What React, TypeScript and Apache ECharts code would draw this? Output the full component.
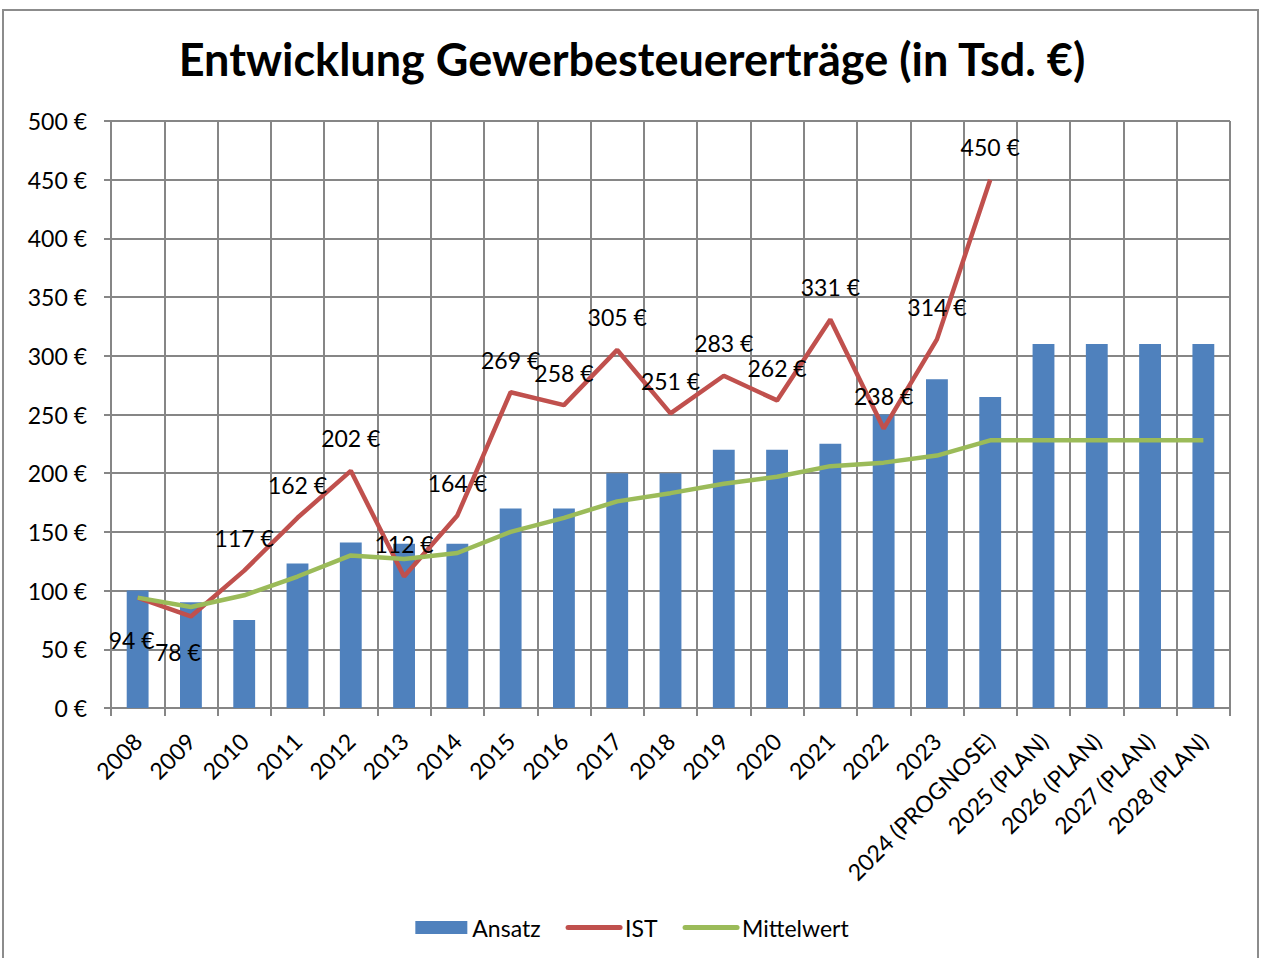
import React, { useEffect, useRef } from "react";
import * as echarts from "echarts";

const categories = [
  "2008", "2009", "2010", "2011", "2012", "2013", "2014", "2015", "2016", "2017",
  "2018", "2019", "2020", "2021", "2022", "2023", "2024 (PROGNOSE)",
  "2025 (PLAN)", "2026 (PLAN)", "2027 (PLAN)", "2028 (PLAN)",
];
const ansatz = [100, 90, 75, 123, 141, 140, 140, 170, 170, 200, 200, 220, 220, 225, 250, 280, 265, 310, 310, 310, 310];
const ist = [94, 78, 117, 162, 202, 112, 164, 269, 258, 305, 251, 283, 262, 331, 238, 314, 450, null, null, null, null];
const mittelwert = [94, 86, 96, 112, 130, 127, 132, 150, 162, 176, 183, 191, 197, 206, 209, 215, 228, 228, 228, 228, 228];
const yTicks = { min: 0, max: 500, interval: 50 };

const FONT = "Lato";
const FS = 23;

export default function App() {
  const ref = useRef<HTMLDivElement>(null);
  useEffect(() => {
    if (!ref.current) return;
    const chart = echarts.init(ref.current, null, { renderer: "svg" });
    const istLabelData = ist.map((v, i) => {
      if (v === null) return null;
      if (i === 0) return { value: v, label: { position: "bottom", distance: 31, offset: [-6, 0] } };
      if (i === 1) return { value: v, label: { position: "bottom", distance: 24, offset: [-13, 0] } };
      return v;
    });
    chart.setOption({
      animation: false,
      backgroundColor: "#ffffff",
      textStyle: { fontFamily: FONT },
      title: {
        text: "Entwicklung Gewerbesteuererträge (in Tsd. €)",
        left: "center",
        top: 31,
        textStyle: { fontFamily: FONT, fontWeight: "bold", fontSize: 45, color: "#000" },
      },
      graphic: [
        {
          type: "rect",
          shape: { x: 3, y: 10, width: 1255, height: 960 },
          style: { fill: "none", stroke: "#8c8c8c", lineWidth: 2 },
          silent: true,
        },
      ],
      legend: {
        bottom: 14,
        left: "center",
        itemWidth: 52,
        itemHeight: 13,
        itemGap: 25,
        textStyle: { fontFamily: FONT, fontSize: FS, color: "#000" },
        data: [
          { name: "Ansatz", icon: "rect" },
          { name: "IST", itemStyle: { opacity: 0 }, lineStyle: { width: 5, cap: "round" } },
          { name: "Mittelwert", itemStyle: { opacity: 0 }, lineStyle: { width: 5, cap: "round" } },
        ],
      },
      grid: { left: 111, right: 34, top: 121, bottom: 250, containLabel: false },
      xAxis: {
        type: "category",
        data: categories,
        boundaryGap: true,
        axisLine: { lineStyle: { color: "#868686", width: 2 } },
        axisTick: { show: true, length: 8, lineStyle: { color: "#868686", width: 2 } },
        splitLine: { show: true, lineStyle: { color: "#868686", width: 2 } },
        axisLabel: {
          rotate: 45,
          interval: 0,
          margin: 29,
          fontFamily: FONT,
          fontSize: FS,
          color: "#000",
        },
      },
      yAxis: {
        type: "value",
        min: yTicks.min,
        max: yTicks.max,
        interval: yTicks.interval,
        axisLine: { show: true, lineStyle: { color: "#868686", width: 2 } },
        axisTick: { show: true, length: 7, lineStyle: { color: "#868686", width: 2 } },
        splitLine: { show: true, lineStyle: { color: "#868686", width: 2 } },
        axisLabel: {
          margin: 24,
          fontFamily: FONT,
          fontSize: FS,
          color: "#000",
          formatter: (v: number) => `${v} €`,
        },
      },
      series: [
        {
          name: "Ansatz",
          type: "bar",
          data: ansatz,
          barWidth: "41%",
          itemStyle: { color: "#4F81BD" },
          z: 2,
        },
        {
          name: "IST",
          type: "line",
          data: ist,
          symbol: "none",
          lineStyle: { color: "#C0504D", width: 4.5 },
          itemStyle: { color: "#C0504D" },
          z: 3,
        },
        {
          name: "Mittelwert",
          type: "line",
          data: mittelwert,
          symbol: "none",
          lineStyle: { color: "#9BBB59", width: 4.5 },
          itemStyle: { color: "#9BBB59" },
          z: 4,
        },
        {
          name: "IST-Beschriftung",
          type: "scatter",
          data: istLabelData,
          symbol: "circle",
          symbolSize: 0,
          itemStyle: { color: "#C0504D" },
          label: {
            show: true,
            position: "top",
            distance: 21,
            fontFamily: FONT,
            fontSize: FS,
            color: "#000",
            opacity: 1,
            formatter: (p: any) => `${p.value} €`,
          },
          silent: true,
          z: 5,
        },
      ],
    });
    return () => chart.dispose();
  }, []);
  return (
    <div
      ref={ref}
      style={{ position: "absolute", left: 0, top: 0, width: 1264, height: 958 }}
    />
  );
}
